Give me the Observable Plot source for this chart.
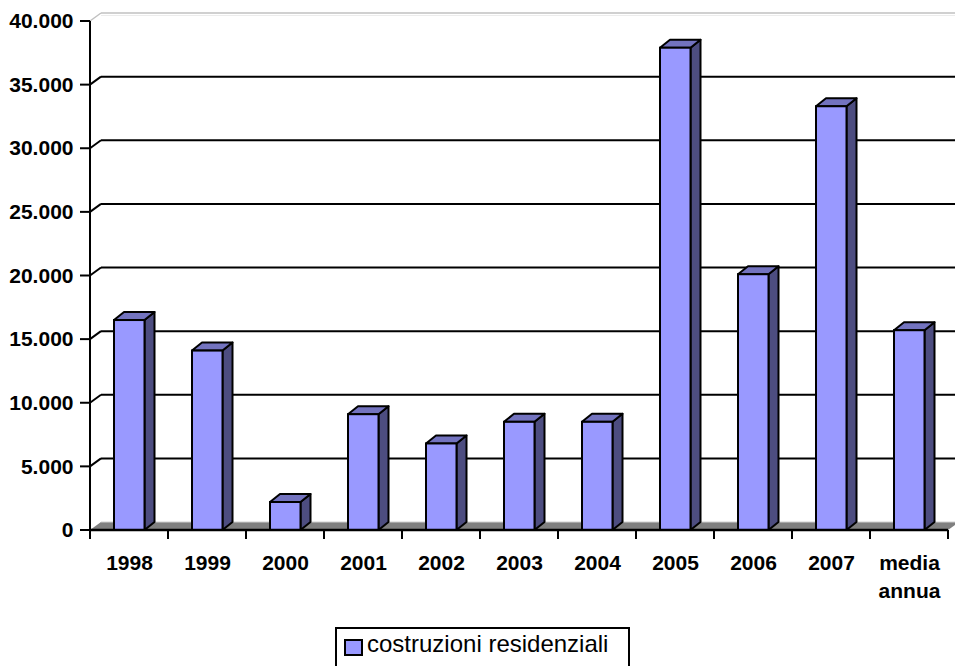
<!DOCTYPE html>
<html><head><meta charset="utf-8">
<script src="https://cdn.jsdelivr.net/npm/d3@7"></script>
<script src="https://cdn.jsdelivr.net/npm/@observablehq/plot@0.6"></script>
<style>
body{margin:0;background:#fff;overflow:hidden}
#wrap{position:relative;width:955px;height:666px}
#legend{position:absolute;left:335px;top:627px;width:295px;height:50px;border:2px solid #000;box-sizing:border-box;font-family:"Liberation Sans",Arial,sans-serif;font-size:24px;color:#000;background:#fff}
#legend .sw{position:absolute;left:7px;top:10px;width:19px;height:17px;background:#9999ff;border:2px solid #000;box-sizing:border-box}
#legend .tx{position:absolute;left:30px;top:1px;white-space:nowrap}
</style></head><body><div id="wrap"></div>
<script>
const categories = ["1998","1999","2000","2001","2002","2003","2004","2005","2006","2007","media annua"];
const values = [16500,14100,2200,9100,6800,8500,8500,37900,20100,33300,15700];
const yTicks = [0,5000,10000,15000,20000,25000,30000,35000,40000];
const yTickLabels = ["0","5.000","10.000","15.000","20.000","25.000","30.000","35.000","40.000"];
const seriesName = "costruzioni residenziali";

const data = categories.map((c, i) => ({cat: c, value: values[i]}));

const W = 955, H = 666;
const ML = 87, MR = 5, MT = 21, MB = 136;
const BDX = 10, BDY = -8;   // bar depth
const WDX = 11, WDY = -8;   // wall depth
const INL = 24, INR = 23.5;

function bandInfo(sx) {
  const bw = typeof sx.bandwidth === "function" ? sx.bandwidth() : (sx.bandwidth ?? (sx(categories[1]) - sx(categories[0])));
  return bw;
}

function wallsMark(index, scales) {
  const sx = scales.x, sy = scales.y;
  const g = d3.create("svg:g");
  const y0 = sy(0);
  const xL = sx(categories[0]);
  const bw = bandInfo(sx);
  const xR = sx(categories[categories.length - 1]) + bw;
  g.append("path")
    .attr("d", `M${xL},${y0}L${xR},${y0}L${xR + WDX},${y0 + WDY}L${xL + WDX},${y0 + WDY}Z`)
    .attr("fill", "#808080");
  g.append("line").attr("x1", xL + WDX).attr("x2", W).attr("y1", y0 + WDY).attr("y2", y0 + WDY)
    .attr("stroke", "#d0d0d0").attr("stroke-width", 1);
  const top = yTicks[yTicks.length - 1];
  for (const v of yTicks) {
    if (v === 0) continue;
    const y = sy(v);
    const col = v === top ? "#c0c0c0" : "#000";
    const sw = v === top ? 1.5 : 2;
    g.append("line").attr("x1", xL).attr("y1", y).attr("x2", xL + WDX).attr("y2", y + WDY)
      .attr("stroke", col).attr("stroke-width", sw);
    g.append("line").attr("x1", xL + WDX).attr("y1", y + WDY).attr("x2", W).attr("y2", y + WDY)
      .attr("stroke", col).attr("stroke-width", sw);
  }
  g.append("line").attr("x1", xL + WDX).attr("y1", sy(top) + WDY + 2.5).attr("x2", W).attr("y2", sy(top) + WDY + 2.5)
    .attr("stroke", "#ececec").attr("stroke-width", 1);
  return g.node();
}

function depthMark(index, scales) {
  const sx = scales.x, sy = scales.y;
  const g = d3.create("svg:g").attr("stroke", "#000").attr("stroke-width", 2).attr("stroke-linejoin", "round");
  const bw = bandInfo(sx);
  const y0 = sy(0);
  for (const d of data) {
    const x0 = sx(d.cat) + INL, x1 = sx(d.cat) + bw - INR;
    const yv = sy(d.value);
    g.append("path")
      .attr("d", `M${x1},${y0}L${x1 + BDX},${y0 + BDY}L${x1 + BDX},${yv + BDY}L${x1},${yv}Z`)
      .attr("fill", "#4d4d80");
    g.append("path")
      .attr("d", `M${x0},${yv}L${x0 + BDX},${yv + BDY}L${x1 + BDX},${yv + BDY}L${x1},${yv}Z`)
      .attr("fill", "#7373bf");
  }
  return g.node();
}

function axesMark(index, scales) {
  const sx = scales.x, sy = scales.y;
  const g = d3.create("svg:g").attr("stroke", "#000").attr("stroke-width", 2);
  const bw = bandInfo(sx);
  const y0 = sy(0);
  const xL = sx(categories[0]);
  const xR = sx(categories[categories.length - 1]) + bw;
  const top = yTicks[yTicks.length - 1];
  g.append("line").attr("x1", xL).attr("x2", xL).attr("y1", sy(top)).attr("y2", y0 + 1);
  for (const v of yTicks) {
    g.append("line").attr("x1", xL - 10).attr("x2", xL).attr("y1", sy(v)).attr("y2", sy(v));
  }
  g.append("line").attr("x1", xL).attr("x2", xR).attr("y1", y0).attr("y2", y0).attr("stroke-width", 2.5);
  for (let i = 0; i <= categories.length; i++) {
    const x = xL + i * bw;
    g.append("line").attr("x1", x).attr("x2", x).attr("y1", y0).attr("y2", y0 + 9);
  }
  return g.node();
}

const chart = Plot.plot({
  width: W, height: H,
  marginLeft: ML, marginRight: MR, marginTop: MT, marginBottom: MB,
  style: {fontFamily: "'Liberation Sans', Arial, sans-serif", fontSize: "21px", fontWeight: "bold", color: "#000", background: "transparent", overflow: "visible"},
  x: {type: "band", domain: categories, padding: 0, axis: null},
  y: {domain: [0, 40000], ticks: yTicks, tickFormat: d => yTickLabels[yTicks.indexOf(d)], tickSize: 0, tickPadding: 14, label: null},
  marks: [
    wallsMark,
    depthMark,
    Plot.barY(data, {x: "cat", y: "value", fill: "#9999ff", stroke: "#000", strokeWidth: 2, insetLeft: INL, insetRight: INR}),
    axesMark,
    Plot.text(data, {x: "cat", frameAnchor: "bottom", dy: 19, lineAnchor: "top", lineHeight: 1.35,
      text: d => d.cat.replace(" ", "\n"), fill: "#000", fontWeight: "bold", fontSize: 21})
  ]
});

const wrap = document.getElementById("wrap");
wrap.appendChild(chart);
const leg = document.createElement("div");
leg.id = "legend";
leg.innerHTML = `<span class="sw"></span><span class="tx"></span>`;
leg.querySelector(".tx").textContent = seriesName;
wrap.appendChild(leg);
</script>
</body></html>
